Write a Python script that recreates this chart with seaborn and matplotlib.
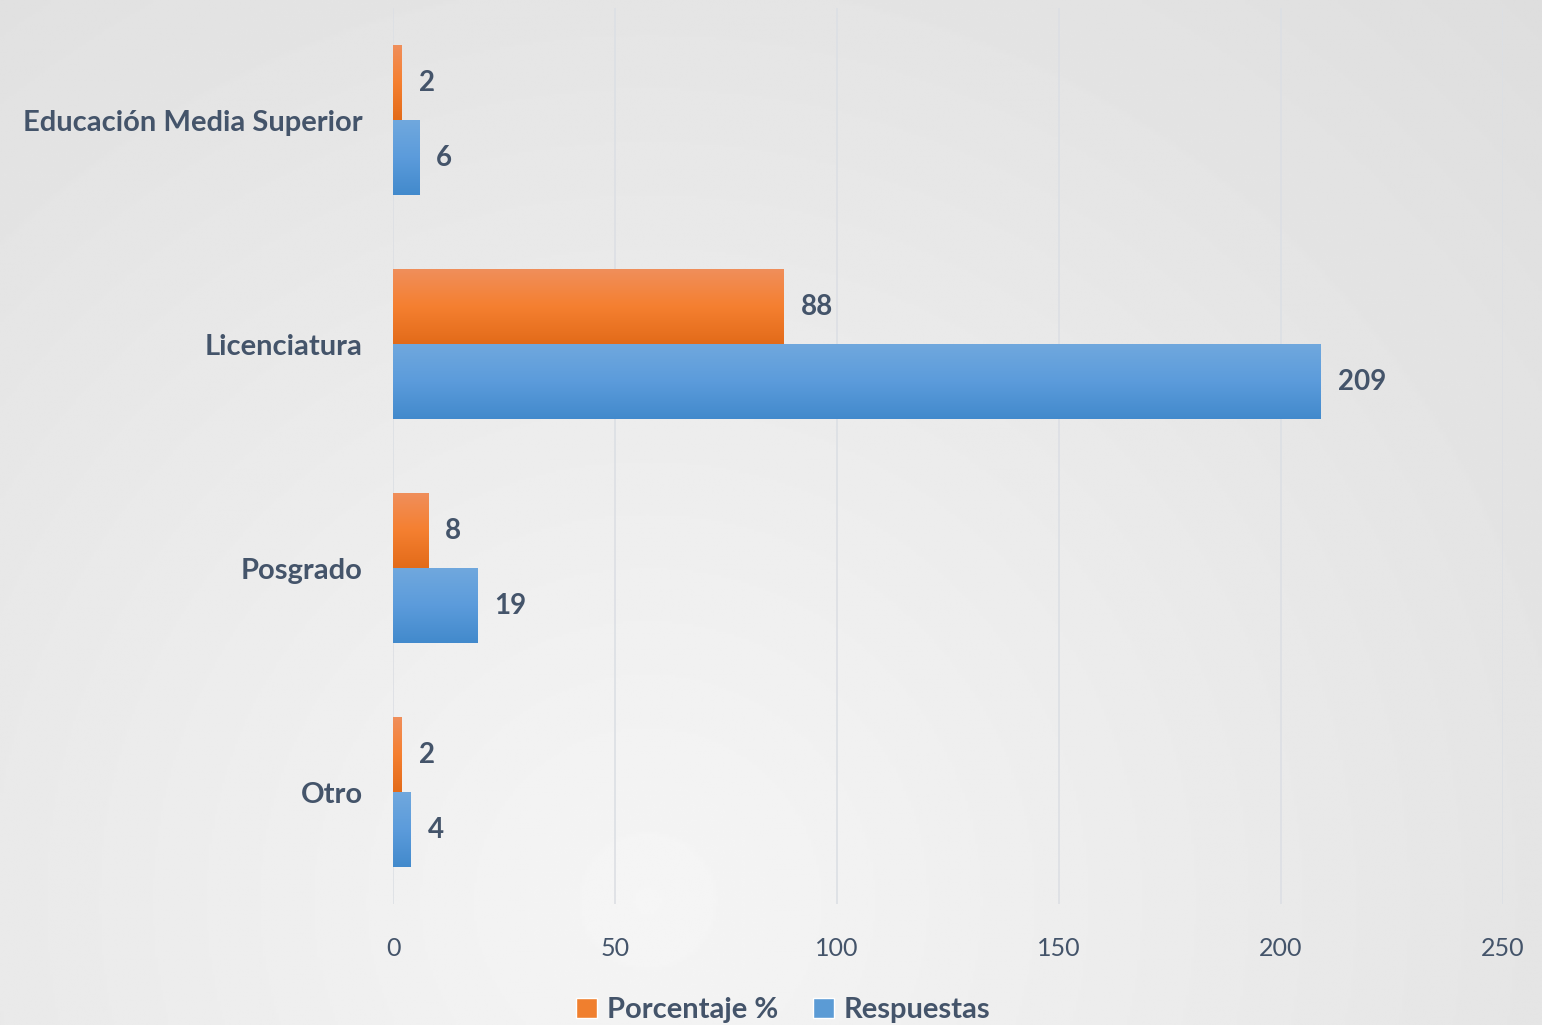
import numpy as np
import pandas as pd
import matplotlib
matplotlib.use("Agg")
import matplotlib.pyplot as plt
import seaborn as sns

# Data
categories = ["Educación Media Superior", "Licenciatura", "Posgrado", "Otro"]
porcentaje = [2, 88, 8, 2]
respuestas = [6, 209, 19, 4]
series = ["Porcentaje %", "Respuestas"]

df = pd.DataFrame({
    "Nivel": categories * 2,
    "Valor": porcentaje + respuestas,
    "Serie": [series[0]] * len(categories) + [series[1]] * len(categories),
})

text_col = "#44546A"
orange_grad = [(0.94, 0.56, 0.36), (0.96, 0.50, 0.19), (0.89, 0.42, 0.10)]
blue_grad = [(0.44, 0.66, 0.87), (0.36, 0.61, 0.86), (0.26, 0.54, 0.80)]

sns.set_style("white")
plt.rcParams["font.family"] = ["Lato", "DejaVu Sans"]

fig = plt.figure(figsize=(15.42, 10.25), dpi=100)

# radial grey background
bg = fig.add_axes([0, 0, 1, 1], zorder=-10)
yy, xx = np.mgrid[0:1:400j, 0:1:600j]
dist = np.sqrt(((xx - 0.42) * 1.5) ** 2 + (yy - 0.12) ** 2)
shade = 0.962 - 0.075 * dist
bg.imshow(shade, cmap="gray", vmin=0, vmax=1, extent=(0, 1, 0, 1), origin="lower",
          aspect="auto", interpolation="bilinear")
bg.axis("off")

ax = fig.add_axes([0.2549, 0.118, 0.7198, 0.874])
ax.set_facecolor("none")
sns.barplot(data=df, x="Valor", y="Nivel", hue="Serie", orient="h",
            palette=["#F07F2E", "#5B9BD5"], width=0.67, ax=ax, zorder=3)

ax.set_xlim(0, 250)
ylim = ax.get_ylim()
ax.set_xticks(range(0, 251, 50))
ax.grid(axis="x", color="#DCDFE4", linewidth=1.2, zorder=0)
ax.grid(axis="y", visible=False)
sns.despine(ax=ax, left=True, bottom=True, top=True, right=True)
ax.set_xlabel("")
ax.set_ylabel("")
ax.tick_params(axis="x", length=0, pad=24, labelsize=18, labelcolor=text_col)
ax.tick_params(axis="y", length=0, pad=22, labelsize=21, labelcolor=text_col)
for lab in ax.get_yticklabels():
    lab.set_fontweight("bold")

# gradient fill of each bar + value labels
for container, grad in zip(ax.containers, [orange_grad, blue_grad]):
    cmap = matplotlib.colors.LinearSegmentedColormap.from_list("g", grad)
    for patch in container:
        x0, y0 = patch.get_x(), patch.get_y()
        w, h = patch.get_width(), patch.get_height()
        g = np.linspace(0, 1, 100).reshape(-1, 1)
        im = ax.imshow(g, cmap=cmap, aspect="auto", origin="upper",
                       extent=(x0, x0 + w, y0 + h, y0), zorder=3)
        im.set_clip_path(patch)
        patch.set_facecolor("none")
        patch.set_edgecolor("none")
    ax.bar_label(container, padding=12, fontsize=20, fontweight="bold", color=text_col)

ax.set_ylim(ylim)
ax.set_xlim(0, 250)

handles, labels = ax.get_legend_handles_labels()
ax.legend_.remove()
for hnd, c in zip(handles, ["#F07F2E", "#5B9BD5"]):
    hnd.set_facecolor(c)
fig.legend(handles, labels, loc="lower center", bbox_to_anchor=(0.508, -0.024), ncol=2,
           frameon=False, prop={"weight": "bold", "size": 21},
           handlelength=0.7, handleheight=0.7, handletextpad=0.35, columnspacing=1.2,
           labelcolor=text_col)

fig.savefig("out.png", dpi=100)
